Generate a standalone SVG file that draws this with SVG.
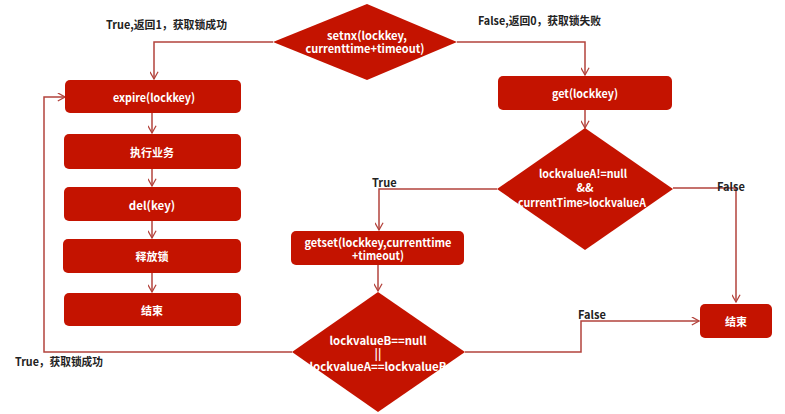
<svg xmlns="http://www.w3.org/2000/svg" width="785" height="414" viewBox="0 0 785 414">
<defs>
<marker id="arr" viewBox="0 0 10 10" refX="9" refY="5" markerWidth="9" markerHeight="9" markerUnits="userSpaceOnUse" orient="auto">
<path d="M1,0.5 L9,5 L1,9.5" fill="none" stroke="#b3433c" stroke-width="1.4"/>
</marker>
</defs>
<style>
.n{fill:#c41300;}
.t{fill:#ffffff;font-family:"Noto Sans CJK SC","Noto Sans",sans-serif;font-weight:bold;font-size:11.5px;text-anchor:middle;dominant-baseline:central;}
.z{font-size:11px;}
.l{fill:#222222;font-family:"Noto Sans CJK SC","Noto Sans",sans-serif;font-weight:bold;font-size:11px;dominant-baseline:central;}
.c{fill:none;stroke:#b3433c;stroke-width:1.5;}
</style>
<rect width="785" height="414" fill="#ffffff"/>
<g id="connectors">
<path class="c" d="M273,42 H154 V79" marker-end="url(#arr)"/>
<path class="c" d="M457,42 H585 V75" marker-end="url(#arr)"/>
<path class="c" d="M152,113 V133" marker-end="url(#arr)"/>
<path class="c" d="M152,169 V186" marker-end="url(#arr)"/>
<path class="c" d="M152,221 V238" marker-end="url(#arr)"/>
<path class="c" d="M152,273 V292" marker-end="url(#arr)"/>
<path class="c" d="M585,110 V128" marker-end="url(#arr)"/>
<path class="c" d="M497,189 H379 V230" marker-end="url(#arr)"/>
<path class="c" d="M673,188 H736 V302" marker-end="url(#arr)"/>
<path class="c" d="M378,265 V291" marker-end="url(#arr)"/>
<path class="c" d="M292,352 H44 V97 H65" marker-end="url(#arr)"/>
<path class="c" d="M465,352 H581 V321 H699" marker-end="url(#arr)"/>
<text class="l" x="106" y="24" textLength="121" lengthAdjust="spacingAndGlyphs">True,返回1，获取锁成功</text>
<text class="l" x="478" y="20" textLength="123" lengthAdjust="spacingAndGlyphs">False,返回0，获取锁失败</text>
<text class="l" x="372" y="182">True</text>
<text class="l" x="717" y="186">False</text>
<text class="l" x="578" y="314">False</text>
<text class="l" x="15" y="361" textLength="88" lengthAdjust="spacingAndGlyphs">True，获取锁成功</text>
</g>
<g id="setnx">
<polygon class="n" points="273,42 367,4 457,42 367,80"/>
<text class="t" x="367" y="35" textLength="80" lengthAdjust="spacingAndGlyphs">setnx(lockkey,</text>
<text class="t" x="365" y="48" textLength="119" lengthAdjust="spacingAndGlyphs">currenttime+timeout)</text>
</g>
<g id="expire">
<rect class="n" x="65" y="80" width="176" height="33" rx="5"/>
<text class="t" x="154" y="97" textLength="82" lengthAdjust="spacingAndGlyphs">expire(lockkey)</text>
</g>
<g id="business">
<rect class="n" x="64" y="134" width="177" height="35" rx="5"/>
<text class="t z" x="152" y="152">执行业务</text>
</g>
<g id="del">
<rect class="n" x="64" y="187" width="177" height="34" rx="5"/>
<text class="t" x="152" y="205">del(key)</text>
</g>
<g id="release">
<rect class="n" x="63" y="239" width="178" height="34" rx="5"/>
<text class="t z" x="152" y="256">释放锁</text>
</g>
<g id="end1">
<rect class="n" x="64" y="293" width="177" height="33" rx="5"/>
<text class="t z" x="152" y="310">结束</text>
</g>
<g id="get">
<rect class="n" x="498" y="76" width="174" height="34" rx="5"/>
<text class="t" x="585" y="93" textLength="66" lengthAdjust="spacingAndGlyphs">get(lockkey)</text>
</g>
<g id="checkA">
<polygon class="n" points="497,189 585,128 673,189 585,250"/>
<text class="t" x="583" y="173" textLength="88" lengthAdjust="spacingAndGlyphs">lockvalueA!=null</text>
<text class="t" x="585" y="187">&amp;&amp;</text>
<text class="t" x="582" y="202" textLength="128" lengthAdjust="spacingAndGlyphs">currentTime&gt;lockvalueA</text>
</g>
<g id="getset">
<rect class="n" x="291" y="231" width="173" height="34" rx="5"/>
<text class="t" x="378" y="242" textLength="147" lengthAdjust="spacingAndGlyphs">getset(lockkey,currenttime</text>
<text class="t" x="378" y="255" textLength="52" lengthAdjust="spacingAndGlyphs">+timeout)</text>
</g>
<g id="checkB">
<polygon class="n" points="292,352 378,292 465,352 378,412"/>
<text class="t" x="378" y="340" textLength="97" lengthAdjust="spacingAndGlyphs">lockvalueB==null</text>
<text class="t" x="378" y="353">||</text>
<text class="t" x="378" y="366" textLength="137" lengthAdjust="spacingAndGlyphs">lockvalueA==lockvalueB</text>
</g>
<g id="end2">
<rect class="n" x="700" y="304" width="72" height="34" rx="5"/>
<text class="t z" x="736" y="321">结束</text>
</g>
</svg>
